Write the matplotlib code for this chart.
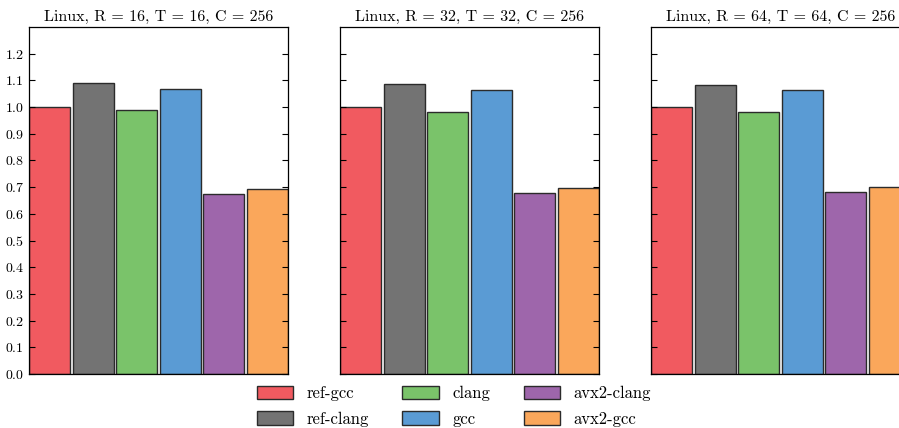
import matplotlib
matplotlib.use("Agg")
import matplotlib.pyplot as plt

plt.rcParams['font.family'] = ['cmr10', 'DejaVu Serif']
plt.rcParams['axes.formatter.use_mathtext'] = True

labels = ["ref-gcc", "ref-clang", "clang", "gcc", "avx2-clang", "avx2-gcc"]
colors = ["#F15A60", "#737373", "#7AC36A", "#5A9BD4", "#9E66AB", "#FAA75B"]
titles = ["Linux, R = 16, T = 16, C = 256",
          "Linux, R = 32, T = 32, C = 256",
          "Linux, R = 64, T = 64, C = 256"]
values_r16 = [1.000, 1.089, 0.989, 1.067, 0.675, 0.694]
values_r32 = [1.000, 1.086, 0.981, 1.065, 0.677, 0.695]
values_r64 = [1.000, 1.084, 0.981, 1.064, 0.681, 0.700]
yticks = [0.0, 0.1, 0.2, 0.3, 0.4, 0.5, 0.6, 0.7, 0.8, 0.9, 1.0, 1.1, 1.2]

W, H = 899, 428
fig = plt.figure(figsize=(W / 100, H / 100), dpi=100)

lefts = [29, 340, 651]
ax_w, ax_top, ax_bot = 259, 27, 374
handles = None
for i, (left, vals, title) in enumerate(zip(lefts, [values_r16, values_r32, values_r64], titles)):
    ax = fig.add_axes([left / W, (H - ax_bot) / H, ax_w / W, (ax_bot - ax_top) / H])
    bars = ax.bar(range(len(vals)), vals, width=0.95, align='edge', color=colors,
                  edgecolor='#2b2b2b', linewidth=1.0)
    for b, l in zip(bars, labels):
        b.set_label(l)
    if handles is None:
        handles = list(bars)
    ax.set_xlim(0, 5.95)
    ax.set_ylim(0, 1.3)
    ax.set_yticks(yticks)
    ax.set_xticks([])
    ax.tick_params(axis='y', direction='in', left=True, right=True, length=4, width=0.8,
                   labelsize=10, labelleft=(i == 0))
    for s in ax.spines.values():
        s.set_linewidth(0.9)
    ax.set_title(title, fontsize=11.5, pad=4)

fig.legend(handles, labels, ncol=3, loc='upper center', bbox_to_anchor=(0.505, 0.133),
           frameon=False, fontsize=12, handlelength=2.2, handleheight=0.85,
           columnspacing=2.0, labelspacing=0.6, handletextpad=0.8)

fig.savefig("out.png", dpi=100)
